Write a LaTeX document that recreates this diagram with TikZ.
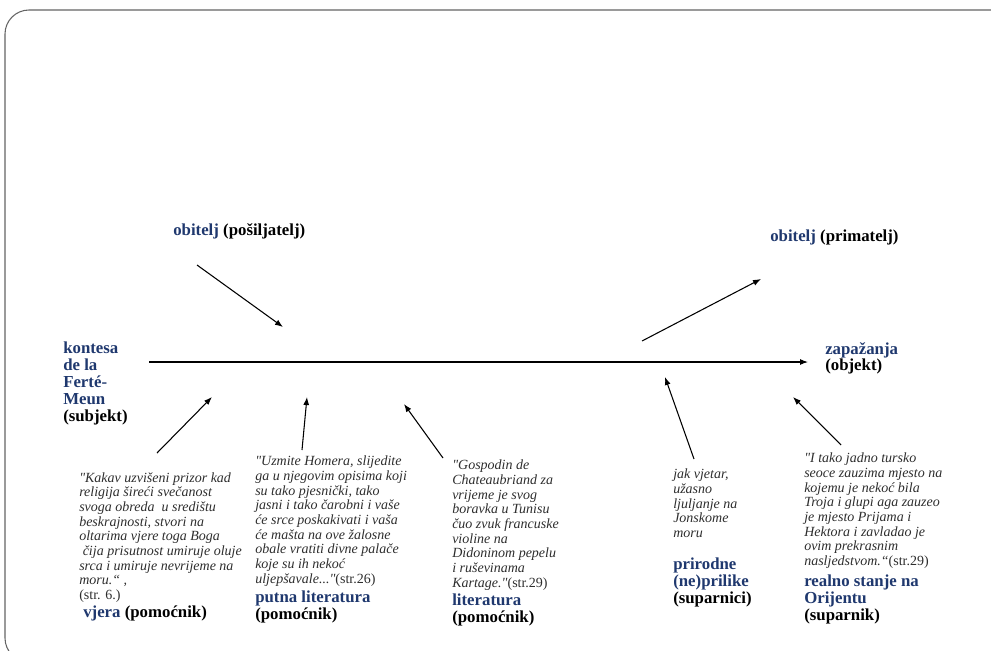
\documentclass[tikz,border=0pt]{standalone}
\usepackage{fontspec}
\setmainfont{Liberation Serif}
\usetikzlibrary{arrows.meta}
\definecolor{naslov}{RGB}{31,56,110}
\definecolor{citatboja}{RGB}{45,45,45}
\definecolor{okvir}{RGB}{100,100,100}
\newcommand{\nav}{\textquotedbl}
\begin{document}
\begin{tikzpicture}[x=0.75pt,y=-0.75pt,
  uloga/.style={font=\fontsize{12.6}{12.6}\selectfont\bfseries,align=left,anchor=north west,inner sep=0pt},
  citat/.style={font=\fontsize{10.5}{11}\selectfont\itshape,text=citatboja,align=left,anchor=north west,inner sep=0pt},
  strelica/.style={-{Latex[length=6pt,width=4.5pt]},line width=0.8pt}]
\useasboundingbox (0,0) rectangle (991,650);
\draw[okvir,line width=0.8pt,rounded corners=18pt] (5,10) rectangle (1020,662);
\node[uloga] (posiljatelj) at (173,223) {\textcolor{naslov}{obitelj} (pošiljatelj)};
\node[uloga] (primatelj) at (770,230) {\textcolor{naslov}{obitelj} (primatelj)};
\node[uloga] (subjekt) at (63,342) {\textcolor{naslov}{kontesa}\\\textcolor{naslov}{de la}\\\textcolor{naslov}{Ferté-}\\\textcolor{naslov}{Meun}\\(subjekt)};
\node[uloga] (objekt) at (825,342) {\textcolor{naslov}{zapažanja}\\(objekt)};
\node[citat] (vjeracit) at (79,472) {\nav Kakav uzvišeni prizor kad\\religija šireći svečanost\\svoga obreda\ \ u središtu\\beskrajnosti, stvori na\\oltarima vjere toga Boga\\\ čija prisutnost umiruje oluje\\srca i umiruje nevrijeme na\\moru.“ ,\\\upshape(str. 6.)};
\node[uloga] (vjera) at (83,606) {\textcolor{naslov}{vjera} (pomoćnik)};
\node[citat] (putnacit) at (255,456) {\nav Uzmite Homera, slijedite\\ga u njegovim opisima koji\\su tako pjesnički, tako\\jasni i tako čarobni i vaše\\će srce poskakivati i vaša\\će mašta na ove žalosne\\obale vratiti divne palače\\koje su ih nekoć\\uljepšavale...\nav\textup{(str.26)}};
\node[uloga] (putna) at (255,591) {\textcolor{naslov}{putna literatura}\\(pomoćnik)};
\node[citat] (litcit) at (452,460) {\nav Gospodin de\\Chateaubriand za\\vrijeme je svog\\boravka u Tunisu\\čuo zvuk francuske\\violine na\\Didoninom pepelu\\i ruševinama\\Kartage.\nav\textup{(str.29)}};
\node[uloga] (lit) at (452,594) {\textcolor{naslov}{literatura}\\(pomoćnik)};
\node[citat] (prircit) at (673,469) {jak vjetar,\\užasno\\ljuljanje na\\Jonskome\\moru};
\node[uloga] (prir) at (673,558) {\textcolor{naslov}{prirodne}\\\textcolor{naslov}{(ne)prilike}\\(suparnici)};
\node[citat] (orijcit) at (804,453) {\nav I tako jadno tursko\\seoce zauzima mjesto na\\kojemu je nekoć bila\\Troja i glupi aga zauzeo\\je mjesto Prijama i\\Hektora i zavladao je\\ovim prekrasnim\\nasljedstvom.“\textup{(str.29)}};
\node[uloga] (orij) at (804,575) {\textcolor{naslov}{realno stanje na}\\\textcolor{naslov}{Orijentu}\\(suparnik)};
\coordinate (os1) at (149,362);
\coordinate (os2) at (808,362);
\coordinate (pos1) at (197,265);
\coordinate (pos2) at (283,327);
\coordinate (pri1) at (642,341);
\coordinate (pri2) at (761,279);
\coordinate (vj1) at (157,453);
\coordinate (vj2) at (212,397);
\coordinate (pu1) at (302,450);
\coordinate (pu2) at (307,397);
\coordinate (li1) at (443,458);
\coordinate (li2) at (404,404);
\coordinate (pr1) at (694,459);
\coordinate (pr2) at (665,377);
\coordinate (or1) at (841,445);
\coordinate (or2) at (793,397);
\draw[strelica] (os1) -- (os2);
\draw[strelica] (pos1) -- (pos2);
\draw[strelica] (pri1) -- (pri2);
\draw[strelica] (vj1) -- (vj2);
\draw[strelica] (pu1) -- (pu2);
\draw[strelica] (li1) -- (li2);
\draw[strelica] (pr1) -- (pr2);
\draw[strelica] (or1) -- (or2);
\end{tikzpicture}
\end{document}
